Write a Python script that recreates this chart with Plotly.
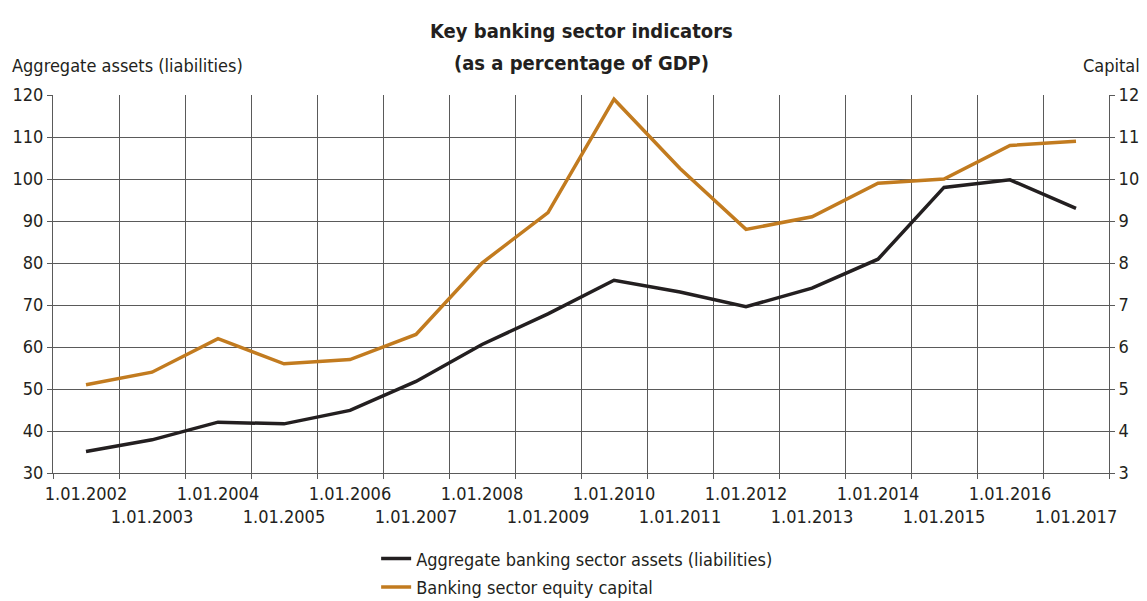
import plotly.graph_objects as go

categories = ["1.01.2002", "1.01.2003", "1.01.2004", "1.01.2005", "1.01.2006", "1.01.2007",
              "1.01.2008", "1.01.2009", "1.01.2010", "1.01.2011", "1.01.2012", "1.01.2013",
              "1.01.2014", "1.01.2015", "1.01.2016", "1.01.2017"]
assets = [35.1, 37.9, 42.1, 41.7, 44.9, 51.8, 60.6, 67.9, 75.9, 73.1, 69.6, 74.0, 80.9, 98.0, 99.8, 93.0]
capital = [5.1, 5.4, 6.2, 5.6, 5.7, 6.3, 8.0, 9.2, 11.9, 10.25, 8.8, 9.1, 9.9, 10.0, 10.8, 10.9]
left_ticks = [30, 40, 50, 60, 70, 80, 90, 100, 110, 120]
right_ticks = [3, 4, 5, 6, 7, 8, 9, 10, 11, 12]

FONT = "Liberation Sans Narrow, DejaVu Sans Condensed, Arial Narrow, sans-serif"
TXT = "#231f20"
GRID = "#5a5a5a"
BLACK = "#231f20"
ORANGE = "#C27B1F"

labels = [c if i % 2 == 0 else "<br>" + c for i, c in enumerate(categories)]

fig = go.Figure()
fig.add_trace(go.Scatter(x=categories, y=assets, mode="lines", name="Aggregate banking sector assets (liabilities)",
                         line=dict(color=BLACK, width=3.5), yaxis="y", legendgroup="a"))
fig.add_trace(go.Scatter(x=categories, y=capital, mode="lines", name="Banking sector equity capital",
                         line=dict(color=ORANGE, width=3.5), yaxis="y2", legendgroup="b"))

# page body adds an 8px margin, so the figure is drawn 8px smaller and shifted
fig.update_layout(
    width=1139, height=593,
    margin=dict(l=45, r=38, t=87, b=128, autoexpand=False),
    paper_bgcolor="white", plot_bgcolor="white",
    font=dict(family=FONT, size=18, color=TXT),
    xaxis=dict(type="category", tickson="boundaries", tickmode="array", tickvals=categories, ticktext=labels,
               showgrid=True, gridcolor=GRID, gridwidth=1, ticks="outside", ticklen=5, tickcolor=GRID,
               showline=True, linecolor=GRID, linewidth=1, zeroline=False, automargin=False,
               range=[-0.5, 15.5], tickangle=0, tickfont=dict(size=18), ticklabelstandoff=4),
    yaxis=dict(range=[30, 120], tickvals=left_ticks, showgrid=True, gridcolor=GRID, gridwidth=1,
               ticks="outside", ticklen=5, tickcolor=GRID, showline=True, linecolor=GRID, linewidth=1,
               zeroline=False, automargin=False, tickfont=dict(size=18)),
    yaxis2=dict(range=[3, 12], tickvals=right_ticks, overlaying="y", side="right", showgrid=False,
                ticks="outside", ticklen=5, tickcolor=GRID, showline=True, linecolor=GRID, linewidth=1,
                zeroline=False, automargin=False, tickfont=dict(size=18)),
    legend=dict(orientation="v", x=0.306, xanchor="left", y=-0.178, yanchor="top",
                font=dict(size=18), tracegroupgap=2, itemwidth=30, bgcolor="rgba(0,0,0,0)"),
    showlegend=True,
    annotations=[
        dict(text="<b>Key banking sector indicators</b>", xref="paper", yref="paper", x=0.5, y=1.169,
             xanchor="center", yanchor="middle", showarrow=False, font=dict(size=20)),
        dict(text="<b>(as a percentage of GDP)</b>", xref="paper", yref="paper", x=0.5, y=1.085,
             xanchor="center", yanchor="middle", showarrow=False, font=dict(size=20)),
        dict(text="Aggregate assets (liabilities)", xref="paper", yref="paper", x=-0.0407, y=1.077,
             xanchor="left", yanchor="middle", showarrow=False, font=dict(size=18)),
        dict(text="Capital", xref="paper", yref="paper", x=1.031, y=1.077,
             xanchor="right", yanchor="middle", showarrow=False, font=dict(size=18)),
    ],
)

fig.write_html("out.html")
